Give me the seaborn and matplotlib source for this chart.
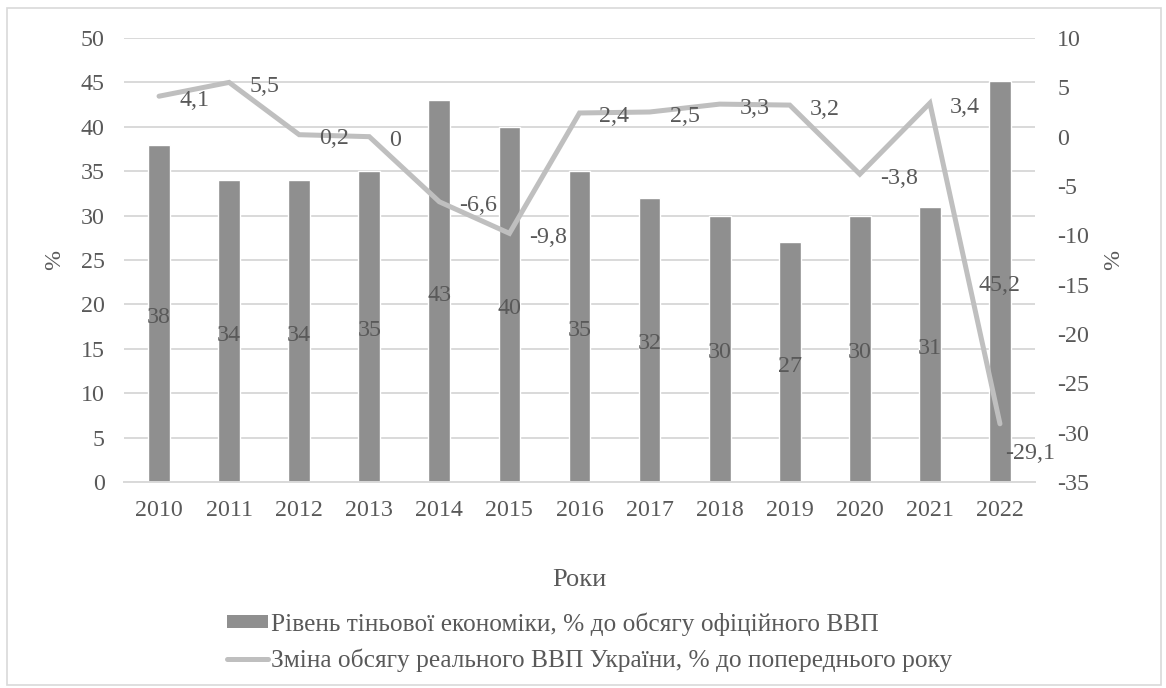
import numpy as np
import pandas as pd
import matplotlib
matplotlib.use("Agg")
import matplotlib.pyplot as plt
import seaborn as sns
from matplotlib.lines import Line2D
from matplotlib.patches import Patch, Rectangle
from matplotlib.ticker import FuncFormatter, MultipleLocator

# --- data ---------------------------------------------------------------
years = ["2010", "2011", "2012", "2013", "2014", "2015", "2016",
         "2017", "2018", "2019", "2020", "2021", "2022"]
shadow_share = [38, 34, 34, 35, 43, 40, 35, 32, 30, 27, 30, 31, 45.2]
gdp_change = [4.1, 5.5, 0.2, 0, -6.6, -9.8, 2.4, 2.5, 3.3, 3.2, -3.8, 3.4, -29.1]

bar_name = "Рівень тіньової економіки, % до обсягу офіційного ВВП"
line_name = "Зміна обсягу реального ВВП України, % до попереднього року"
x_title = "Роки"
y_title = "%"

# --- style --------------------------------------------------------------
sns.set_theme(style="white")
plt.rcParams["font.family"] = ["Liberation Serif", "DejaVu Serif"]
plt.rcParams["axes.unicode_minus"] = False

TEXT = "#595959"
BAR = "#8F8F8F"
LINE = "#BFBFBF"
GRID = "#D9D9D9"
FS = 17.3        # numbers: ticks and value labels
FS_TITLE = 19    # axis titles
FS_LEGEND = 18.3

# label offsets (pixels) for the line values: right of each point
label_dx = [20] * 12 + [5]
label_dy = [-4] * 12 + [-30]


def comma(v):
    return f"{v:g}".replace(".", ",")


df = pd.DataFrame({"year": years, "shadow": shadow_share, "gdp": gdp_change})

W, H = 1166, 688
fig = plt.figure(figsize=(W / 100, H / 100), dpi=100)
fig.patch.set_facecolor("white")
ax = fig.add_axes([124 / W, 1 - 482 / H, (1035 - 124) / W, (482 - 38) / H])

# bars: shadow economy share (left axis)
sns.barplot(data=df, x="year", y="shadow", color=BAR, saturation=1,
            width=0.31, ax=ax)
ax.set_xlim(-0.5, len(years) - 0.5)
ax.set_ylim(0, 50)
ax.yaxis.set_major_locator(MultipleLocator(5))
ax.yaxis.grid(True, color=GRID, linewidth=1.4)
ax.set_axisbelow(True)
for side in ("top", "left", "right"):
    ax.spines[side].set_visible(False)
ax.spines["bottom"].set_color(GRID)
ax.spines["bottom"].set_linewidth(1.4)
ax.tick_params(axis="x", length=0, pad=13, labelsize=FS, labelcolor=TEXT)
ax.tick_params(axis="y", length=0, pad=14, labelsize=FS, labelcolor=TEXT)
ax.yaxis.set_major_formatter(FuncFormatter(lambda v, p: f"{int(round(v))}"))

# value labels in the middle of each bar
for i, v in enumerate(shadow_share):
    ax.annotate(comma(v), (i, v / 2), xytext=(0, -4),
                textcoords="offset pixels", ha="center", va="center",
                fontsize=FS, color=TEXT)

ax.set_xlabel(x_title, fontsize=FS_TITLE, color=TEXT)
ax.xaxis.set_label_coords(0.5, -0.196)
ax.set_ylabel(y_title, fontsize=FS, color=TEXT)
ax.yaxis.set_label_coords(-0.065, 0.5)

# line: real GDP change (right axis)
ax2 = ax.twinx()
sns.lineplot(x=np.arange(len(years)), y=gdp_change, color=LINE,
             linewidth=3.6, ax=ax2, legend=False)
for ln in ax2.lines:
    ln.set_solid_capstyle("round")
    ln.set_solid_joinstyle("miter")
ax2.set_ylim(-35, 10)
ax2.yaxis.set_major_locator(MultipleLocator(5))
ax2.yaxis.set_major_formatter(FuncFormatter(lambda v, p: f"{int(round(v))}"))
ax2.grid(False)
for side in ("top", "left", "right", "bottom"):
    ax2.spines[side].set_visible(False)
ax2.tick_params(axis="y", length=0, pad=16, labelsize=FS, labelcolor=TEXT)
ax2.set_ylabel(y_title, fontsize=FS, color=TEXT)
ax2.yaxis.set_label_coords(1.0747, 0.5)

for i, v in enumerate(gdp_change):
    ax2.annotate(comma(v), (i, v), xytext=(label_dx[i], label_dy[i]),
                 textcoords="offset pixels", ha="left", va="center",
                 fontsize=FS, color=TEXT)

# legend below the plot
handles = [Patch(facecolor=BAR, edgecolor="none"),
           Line2D([], [], color=LINE, linewidth=3.6, solid_capstyle="round")]
fig.legend(handles, [bar_name, line_name], loc="upper left",
           bbox_to_anchor=(227 / W, 1 - 612 / H), frameon=False,
           fontsize=FS_LEGEND, labelcolor=TEXT, borderpad=0, borderaxespad=0,
           handlelength=1.6, handleheight=0.42, handletextpad=0.15,
           labelspacing=0.5)

# chart border
fig.add_artist(Rectangle((7 / W, 3 / H), (1161 - 7) / W, (685 - 8) / H,
                         transform=fig.transFigure, fill=False,
                         edgecolor=GRID, linewidth=1.2))

fig.savefig("out.png", dpi=100, facecolor="white")
